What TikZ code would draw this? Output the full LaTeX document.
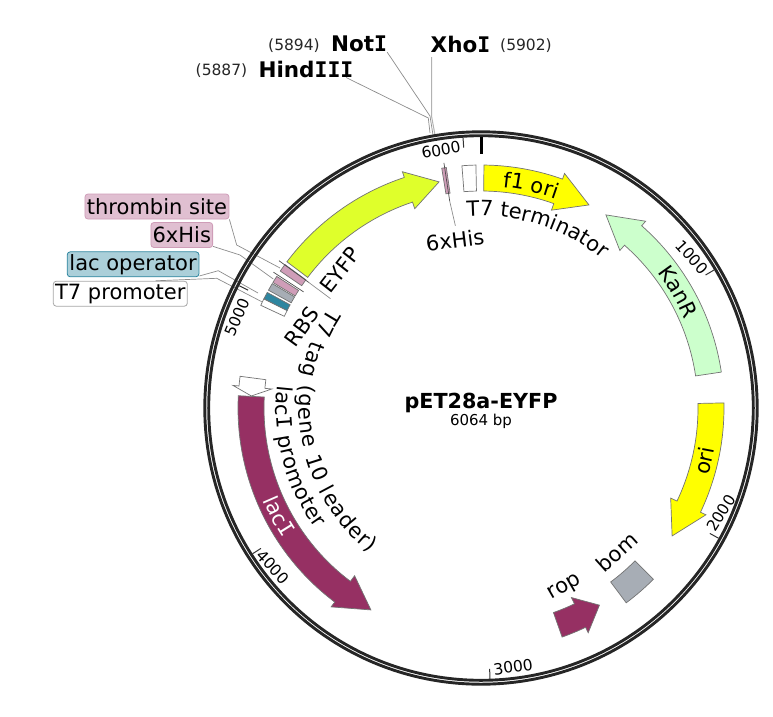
\documentclass[tikz,border=0pt]{standalone}
\usepackage{fontspec}
\setmainfont{DejaVu Sans}
\newfontfamily\slabfam{DejaVu Sans Mono}
\usetikzlibrary{decorations.text}

\newcommand{\lblfont}{\fontsize{21}{24}\selectfont}
\newcommand{\sitefont}{\fontsize{21.5}{24}\selectfont\bfseries}
\newcommand{\posfont}{\fontsize{15.5}{18}\selectfont}
\newcommand{\tickfont}{\fontsize{15.5}{18}\selectfont}
\newcommand{\slabI}{{\slabfam I}}
\newcommand{\slabfont}{\lblfont\slabfam}

\definecolor{eyfpcol}{HTML}{DFFF2B}
\definecolor{yellowcol}{HTML}{FFFF00}
\definecolor{kancol}{HTML}{CCFFCC}
\definecolor{lacicol}{HTML}{963063}
\definecolor{greycol}{HTML}{A7ADB5}
\definecolor{tealcol}{HTML}{2E86A0}
\definecolor{pinkcol}{HTML}{CF9DB8}

\tikzset{
  feat/.style={draw=black!55, line width=0.7pt},
  leader/.style={draw=black!45, line width=0.7pt},
  ring/.style={draw=black!85, line width=2.9pt},
  minortick/.style={draw=black!80, line width=1pt},
  lbl/.style={font=\lblfont, inner sep=0pt},
  sitelbl/.style={font=\sitefont, inner sep=0pt},
  poslbl/.style={font=\posfont, inner sep=0pt, text=black!85},
  ticklbl/.style={font=\tickfont, inner sep=0pt},
  box/.style={lbl, draw, rounded corners=3pt, line width=0.8pt, minimum height=25pt}
}

% cw angles from the top: tail, head base, tip
\newcommand{\featarrow}[4]{
  \filldraw[feat, fill=#1] ({90-#2}:243) arc[start angle={90-#2}, end angle={90-#3}, radius=243]
    -- ({90-#3}:249) -- ({90-#4}:230) -- ({90-#3}:210) -- ({90-#3}:217)
    arc[start angle={90-#3}, end angle={90-#2}, radius=217] -- cycle;
}
\newcommand{\featblock}[3]{
  \filldraw[feat, fill=#1] ({90-#2}:243) arc[start angle={90-#2}, end angle={90-#3}, radius=243]
    -- ({90-#3}:217) arc[start angle={90-#3}, end angle={90-#2}, radius=217] -- cycle;
}
\newcommand{\curvelabel}[4]{
  \path[decorate, decoration={text along path, text align=fit to path, text={#1}}]
    ({90-#2}:#4) arc[start angle={90-#2}, end angle={90-#3}, radius=#4];
}

\begin{document}
\begin{tikzpicture}[x=1pt, y=1pt]

    \useasboundingbox (-481,-308) rectangle (292,408);

    % leaders of the sites and the small features
    \coordinate (hk) at (-52.7,290);
    \coordinate (hr) at (-51,275);
    \coordinate (nk) at (-51,292);
    \coordinate (nr) at (-48,273);
    \coordinate (xk) at (-49.3,291);
    \coordinate (xr) at (-46,273);
    \coordinate (xt) at (-49.3,351);
    \coordinate (tk) at (-244.3,163);
    \coordinate (tf) at (-201,140);
    \coordinate (sk) at (-241,153);
    \coordinate (sf) at (-207.7,129);
    \coordinate (ok) at (-262.7,137.3);
    \coordinate (of) at (-223,115);
    \coordinate (pk) at (-264.3,129.7);
    \coordinate (pf) at (-219.3,106.3);

    \node[sitelbl] (hind) at (-175,339) {Hind\slabI\slabI\slabI};
    \node[sitelbl] (not) at (-122,364) {Not\slabI};
    \node[sitelbl] (xho) at (-20.5,364) {Xho\slabI};
    \node[poslbl] (hpos) at (-259.5,337) {(5887)};
    \node[poslbl] (npos) at (-187,362) {(5894)};
    \node[poslbl] (xpos) at (45,362) {(5902)};

    \node[box, draw=pinkcol, fill=pinkcol!65, minimum width=144pt] (thr) at (-324,201.5) {thrombin site};
    \node[box, draw=pinkcol, fill=pinkcol!65, minimum width=61.7pt] (his) at (-299.2,173) {6xHis};
    \node[box, draw=tealcol, fill=tealcol!40, minimum width=131.7pt] (lac) at (-347.9,143.7) {lac operator};
    \node[box, draw=black!35, fill=white, minimum width=134pt] (pro) at (-360.7,114.3) {T7 promoter};

    \draw[leader] (hind.-12) -- (hk) -- (hr);
    \draw[leader] (not.south east) -- (nk) -- (nr);
    \draw[leader, black!30, line width=1pt] (xt) -- (xk) -- (xr);
    \draw[leader] (thr.south east) -- (tk) -- (tf);
    \draw[leader] (his.-20) -- (sk) -- (sf);
    \draw[leader] (lac.-10) -- (ok) -- (of);
    \draw[leader] (pro.20) -- (pk) -- (pf);

    % backbone
    \draw[ring] (0,0) circle (276.2);
    \draw[ring] (0,0) circle (272.3);

    % ticks
    \draw[black, line width=3pt] (90:271) -- (90:254);
    \foreach \p in {1000,2000,3000,4000,5000,6000} {
      \draw[minortick] ({90-\p/6064*360}:271) -- ({90-\p/6064*360}:261);
    }
    \node[ticklbl, rotate=10] (t6) at (-40,258) {6000};
    \node[ticklbl, rotate=-48] (t1) at (211,151) {1000};
    \node[ticklbl, rotate=58] (t2) at (240,-105) {2000};
    \node[ticklbl, rotate=8] (t3) at (32,-259) {3000};
    \node[ticklbl, rotate=-47] (t4) at (-208,-159) {4000};
    \node[ticklbl, rotate=67] (t5) at (-244,91) {5000};

    % features
    \featarrow{eyfpcol}{-53}{-18.4}{-10.5}
    \featarrow{yellowcol}{0.7}{19.6}{28}
    \featarrow{kancol}{81.5}{41.4}{32.9}
    \featarrow{yellowcol}{88.8}{115.4}{123.8}
    \featarrow{lacicol}{160.5}{154.5}{149}
    \featarrow{lacicol}{272.9}{217}{208.6}
    \featblock{greycol}{134.8}{143.3}
    \featblock{white}{-4.5}{-1.2}
    \featarrow{white}{277.5}{275.2}{273}
    \featblock{white}{-65}{-63.3}
    \featblock{tealcol}{-63.3}{-61.6}
    \featblock{greycol}{-61}{-59.2}
    \featblock{pinkcol}{-58.9}{-57.2}
    \featblock{pinkcol}{-55.7}{-53.8}
    \featblock{pinkcol}{-9.3}{-8.2}
    \draw[feat, black!70] (90+8.6:248) -- (90+8.6:209);
    \draw[feat, black!70] (90+53.9:250) -- (90+53.9:213);
    \draw[feat, black!70] (90+56.8:248) -- (90+56.8:212);
    \draw[leader] (90+8.6:209) -- (90+8:184);
    \draw[leader] (90+53.9:213) -- (90+54:186);

    % labels on the features
    \node[lbl, rotate=52] (eyfp) at (-141,138) {EYFP};
    \node[lbl, rotate=54] (rbs) at (-179.3,81.3) {RBS};
    \node[lbl, rotate=7] (hist) at (-26,168) {6xHis};
    \node[lbl, rotate=30] (rop) at (84,-180) {rop};
    \node[lbl, rotate=42] (bom) at (136,-144) {bom};
    \curvelabel{|\lblfont|f1 ori}{5.6}{19.8}{222}
    \curvelabel{|\lblfont|T7 terminator}{-4.2}{39}{192}
    \curvelabel{|\lblfont|KanR}{52.5}{66.5}{222}
    \curvelabel{|\lblfont|ori}{106.6}{100.6}{237}
    \curvelabel{|\lblfont\color{white}|lac|\slabfont\color{white}|I}{247}{238}{237}
    \curvelabel{|\lblfont|lac|\slabfont|I|\lblfont| promoter}{276.4}{234}{205}
    \curvelabel{|\lblfont|T7 tag (gene 10 leader)}{303}{217.5}{182}

    % title
    \node[font=\fontsize{20.7}{22}\selectfont\bfseries, inner sep=0pt] (name) at (0,5.5) {pET28a-EYFP};
    \node[font=\fontsize{15}{18}\selectfont, inner sep=0pt] (size) at (0,-13) {6064 bp};

\end{tikzpicture}
\end{document}
